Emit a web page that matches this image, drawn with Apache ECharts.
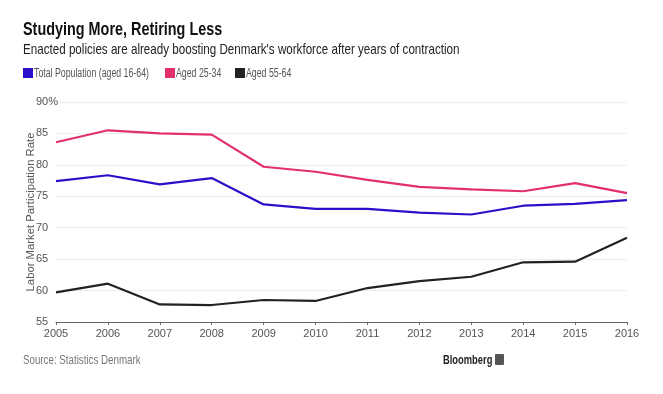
<!DOCTYPE html>
<html>
<head>
<meta charset="utf-8">
<script src="https://cdn.jsdelivr.net/npm/echarts@6/dist/echarts.min.js"></script>
<style>
html,body{margin:0;padding:0;background:#fff;}
#c{width:663px;height:394px;}
</style>
</head>
<body>
<div id="c"></div>
<script>
var years = ['2005','2006','2007','2008','2009','2010','2011','2012','2013','2014','2015','2016'];
var totalPopulation = [77.4, 78.35, 76.9, 77.9, 73.7, 73.0, 73.0, 72.4, 72.1, 73.5, 73.8, 74.4];
var aged25to34 = [83.6, 85.5, 85.0, 84.8, 79.7, 78.9, 77.6, 76.5, 76.1, 75.8, 77.1, 75.5];
var aged55to64 = [59.7, 61.1, 57.8, 57.7, 58.5, 58.35, 60.4, 61.5, 62.2, 64.5, 64.6, 68.4];
var seriesNames = ['Total Population (aged 16-64)', 'Aged 25-34', 'Aged 55-64'];
var colors = ['#2a10c8', '#e3306c', '#222222'];
var legendX = [23, 165, 235];

var FONT = "'Liberation Sans', Arial, sans-serif";
var chart = echarts.init(document.getElementById('c'), null, {renderer: 'canvas'});

var graphics = [
  {type: 'text', x: 23, y: 30, scaleX: 0.8, style: {text: 'Studying More, Retiring Less', font: "bold 18px " + FONT, fill: '#111', verticalAlign: 'middle'}},
  {type: 'text', x: 23, y: 50, scaleX: 0.775, style: {text: "Enacted policies are already boosting Denmark's workforce after years of contraction", font: "15px " + FONT, fill: '#222', verticalAlign: 'middle'}},
  {type: 'text', x: 23, y: 360, scaleX: 0.75, style: {text: 'Source: Statistics Denmark', font: "13px " + FONT, fill: '#777', verticalAlign: 'middle'}},
  {type: 'text', x: 443, y: 360, scaleX: 0.72, style: {text: 'Bloomberg', font: "bold 13px " + FONT, fill: '#222', verticalAlign: 'middle'}},
  {type: 'rect', x: 495, y: 354, shape: {width: 9, height: 11, r: 1}, style: {fill: '#555'}}
];
seriesNames.forEach(function (n, i) {
  graphics.push({type: 'rect', x: legendX[i], y: 68, shape: {width: 10, height: 10}, style: {fill: colors[i]}});
  graphics.push({type: 'text', x: legendX[i] + 11, y: 73.5, scaleX: 0.73, style: {text: n, font: "12px " + FONT, fill: '#555', verticalAlign: 'middle'}});
});

chart.setOption({
  animation: false,
  backgroundColor: '#fff',
  grid: {left: 56, right: 36, top: 102, bottom: 72},
  xAxis: {
    type: 'category', data: years, boundaryGap: false,
    axisLine: {lineStyle: {color: '#666', width: 1}},
    axisTick: {show: true, length: 3, lineStyle: {color: '#666'}},
    axisLabel: {fontFamily: FONT, fontSize: 11, color: '#555', margin: 6}
  },
  yAxis: {
    type: 'value', min: 55, max: 90, interval: 5,
    name: 'Labor Market Participation Rate', nameLocation: 'middle', nameGap: 20, nameMoveOverlap: false,
    nameTextStyle: {fontFamily: FONT, fontSize: 11.3, color: '#555'},
    axisLine: {show: false}, axisTick: {show: false},
    splitLine: {lineStyle: {color: '#eeeeee', width: 1}},
    axisLabel: {
      fontFamily: FONT, fontSize: 11, color: '#555', align: 'left', margin: 20,
      formatter: function (v) { return v === 90 ? v + '%' : String(v); }
    }
  },
  series: [
    {name: seriesNames[0], type: 'line', data: totalPopulation, color: colors[0], symbol: 'none', lineStyle: {width: 2.2}},
    {name: seriesNames[1], type: 'line', data: aged25to34, color: colors[1], symbol: 'none', lineStyle: {width: 2.2}},
    {name: seriesNames[2], type: 'line', data: aged55to64, color: colors[2], symbol: 'none', lineStyle: {width: 2.2}}
  ],
  graphic: graphics
});
</script>
</body>
</html>
